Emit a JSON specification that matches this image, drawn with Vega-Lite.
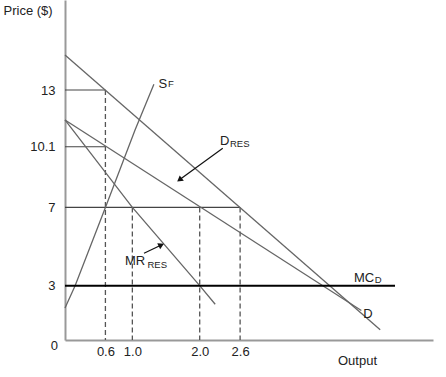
{
  "$schema": "https://vega.github.io/schema/vega-lite/v6.json",
  "autosize": {"type": "none"},
  "padding": {"left": 65, "top": 0, "right": 13, "bottom": 37},
  "width": 368,
  "height": 340,
  "background": "white",
  "config": {
    "view": {"stroke": null},
    "font": "Liberation Sans",
    "axis": {"labelFont": "Liberation Sans", "titleFont": "Liberation Sans", "grid": false, "ticks": false, "domainColor": "#999999", "domainWidth": 2, "labelColor": "#222222", "titleColor": "#222222", "labelFontSize": 13, "titleFontSize": 13, "titleFontWeight": "normal"}
  },
  "datasets": {
    "curves": [
      {"curve": "D", "q": 0, "p": 14.79},
      {"curve": "D", "q": 4.68, "p": 0.75},
      {"curve": "DRES", "q": 0, "p": 11.47},
      {"curve": "DRES", "q": 4.4, "p": 1.73},
      {"curve": "MRRES", "q": 0, "p": 11.47},
      {"curve": "MRRES", "q": 1.0, "p": 7.0},
      {"curve": "MRRES", "q": 2.0, "p": 3.0},
      {"curve": "MRRES", "q": 2.23, "p": 2.05},
      {"curve": "SF", "q": 0, "p": 1.86},
      {"curve": "SF", "q": 0.15, "p": 3.0},
      {"curve": "SF", "q": 0.6, "p": 7.0},
      {"curve": "SF", "q": 1.04, "p": 10.96},
      {"curve": "SF", "q": 1.32, "p": 13.29}
    ],
    "hguides": [
      {"p": 13, "q1": 0, "q2": 0.6},
      {"p": 10.1, "q1": 0, "q2": 0.6},
      {"p": 7, "q1": 0, "q2": 2.6}
    ],
    "vguides": [
      {"q": 0.6, "p1": 13, "p2": 0.225},
      {"q": 1.0, "p1": 7, "p2": 0.225},
      {"q": 2.0, "p1": 7, "p2": 0.225},
      {"q": 2.6, "p1": 7, "p2": 0.225}
    ],
    "mc": [{"p": 3, "q1": 0, "q2": 4.9}],
    "arrows": [
      {"q1": 2.342, "p1": 10.02, "q2": 1.70, "p2": 8.41, "ang": 232},
      {"q1": 1.173, "p1": 4.655, "q2": 1.43, "p2": 5.08, "ang": 64}
    ],
    "labels": [
      {"t": "S", "q": 1.39, "p": 13.12},
      {"t": "D", "q": 2.301, "p": 10.19},
      {"t": "MR", "q": 0.891, "p": 4.057},
      {"t": "MC", "q": 4.291, "p": 3.204},
      {"t": "D", "q": 4.429, "p": 1.334},
      {"t": "0", "q": -0.21, "p": -0.28}
    ],
    "subs": [
      {"t": "F", "q": 1.53, "p": 13.15},
      {"t": "RES", "q": 2.45, "p": 10.09},
      {"t": "RES", "q": 1.225, "p": 3.889},
      {"t": "D", "q": 4.6, "p": 3.137}
    ]
  },
  "layer": [
    {
      "data": {"name": "hguides"},
      "mark": {"type": "rule", "color": "#444444", "strokeWidth": 1.2},
      "encoding": {
        "y": {"field": "p", "type": "quantitative", "scale": {"domain": [0.225, 17.6], "zero": false, "nice": false},
          "axis": {"values": [3, 7, 10.1, 13], "labelExpr": "datum.value % 1 == 0 ? format(datum.value, 'd') : format(datum.value, '.1f')", "labelPadding": 10, "title": "Price ($)", "titleAngle": 0, "titleAlign": "left", "titleBaseline": "alphabetic", "titleX": -62, "titleY": 14}},
        "x": {"field": "q1", "type": "quantitative", "scale": {"domain": [0, 5.464], "nice": false, "zero": false},
          "axis": {"values": [0.6, 1.0, 2.0, 2.6], "labelExpr": "format(datum.value, '.1f')", "labelPadding": 5, "title": "Output", "titleAlign": "center", "titleBaseline": "alphabetic", "titleX": 292, "titleY": 24}},
        "x2": {"field": "q2"}
      }
    },
    {
      "data": {"name": "vguides"},
      "mark": {"type": "rule", "color": "#555555", "strokeWidth": 1.3, "strokeDash": [5, 3]},
      "encoding": {
        "x": {"field": "q", "type": "quantitative"},
        "y": {"field": "p1", "type": "quantitative"},
        "y2": {"field": "p2"}
      }
    },
    {
      "data": {"name": "curves"},
      "mark": {"type": "line", "color": "#666666", "strokeWidth": 1.3},
      "encoding": {
        "x": {"field": "q", "type": "quantitative"},
        "y": {"field": "p", "type": "quantitative"},
        "detail": {"field": "curve", "type": "nominal"},
        "order": {"field": "q", "type": "quantitative"}
      }
    },
    {
      "data": {"name": "mc"},
      "mark": {"type": "rule", "color": "#000000", "strokeWidth": 2},
      "encoding": {
        "y": {"field": "p", "type": "quantitative"},
        "x": {"field": "q1", "type": "quantitative"},
        "x2": {"field": "q2"}
      }
    },
    {
      "data": {"name": "arrows"},
      "mark": {"type": "rule", "color": "#111111", "strokeWidth": 1.2},
      "encoding": {
        "x": {"field": "q1", "type": "quantitative"},
        "y": {"field": "p1", "type": "quantitative"},
        "x2": {"field": "q2"},
        "y2": {"field": "p2"}
      }
    },
    {
      "data": {"name": "arrows"},
      "mark": {"type": "point", "shape": "triangle-up", "filled": true, "color": "#111111", "size": 45, "opacity": 1},
      "encoding": {
        "x": {"field": "q2", "type": "quantitative"},
        "y": {"field": "p2", "type": "quantitative"},
        "angle": {"field": "ang", "type": "quantitative", "scale": null}
      }
    },
    {
      "data": {"name": "labels"},
      "mark": {"type": "text", "align": "left", "baseline": "alphabetic", "fontSize": 13, "color": "#222222", "font": "Liberation Sans"},
      "encoding": {
        "x": {"field": "q", "type": "quantitative"},
        "y": {"field": "p", "type": "quantitative"},
        "text": {"field": "t"}
      }
    },
    {
      "data": {"name": "subs"},
      "mark": {"type": "text", "align": "left", "baseline": "alphabetic", "fontSize": 9.5, "color": "#222222", "font": "Liberation Sans"},
      "encoding": {
        "x": {"field": "q", "type": "quantitative"},
        "y": {"field": "p", "type": "quantitative"},
        "text": {"field": "t"}
      }
    }
  ]
}
